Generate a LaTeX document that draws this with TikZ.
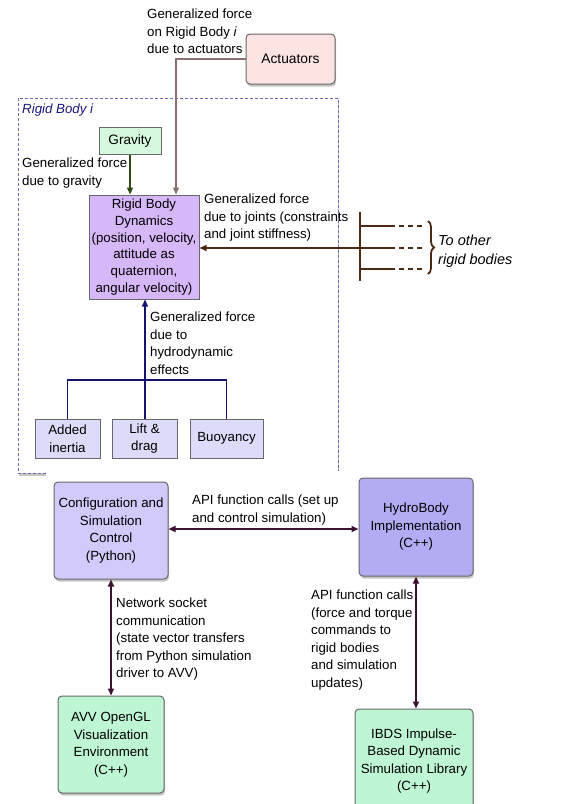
\documentclass[tikz,border=0pt]{standalone}
\usepackage{fontspec}
\setmainfont{Liberation Sans}
\usetikzlibrary{arrows.meta,shadows,decorations.pathreplacing}
\definecolor{actfill}{HTML}{FCE4E2}
\definecolor{gravfill}{HTML}{D6F8DC}
\definecolor{rbdfill}{HTML}{D6B8F8}
\definecolor{smallfill}{HTML}{DCDCFA}
\definecolor{cfgfill}{HTML}{D2CAFA}
\definecolor{hydfill}{HTML}{B2ACF4}
\definecolor{grnfill}{HTML}{BEF5D2}
\definecolor{boxline}{HTML}{686868}
\definecolor{actarrow}{HTML}{8A7070}
\definecolor{gravarrow}{HTML}{2E4A10}
\definecolor{jointarrow}{HTML}{4A2A14}
\definecolor{hydarrow}{HTML}{14146E}
\definecolor{botarrow}{HTML}{3C1232}
\definecolor{dashline}{HTML}{7068B8}
\definecolor{titleblue}{HTML}{1A1A7A}
\begin{document}
\begin{tikzpicture}[x=1pt,y=-1pt,
  font=\fontsize{13.3}{17.5}\selectfont,
  box/.style={draw=boxline, line width=1pt, inner sep=0pt, align=center},
  rbox/.style={box, rounded corners=4pt, drop shadow={shadow xshift=1pt, shadow yshift=-2.5pt, opacity=0.45}},
  lbl/.style={anchor=north west, inner sep=0pt, align=left},
  tip/.tip={Triangle[length=7pt,width=6pt]},
  arr/.style={-tip, line width=1.4pt},
  darr/.style={tip-tip, line width=1.7pt, draw=botarrow}]
\useasboundingbox (0,0) rectangle (574,804);
\fill[white] (0,0) rectangle (574,804);

% dashed container
\draw[dashline, dashed, dash pattern=on 3pt off 2pt, line width=1pt, drop shadow={shadow xshift=1pt, shadow yshift=-2.5pt, opacity=0.45}, fill=white] (18,98) rectangle (338,473);
\node[lbl, font=\fontsize{13.3}{17.5}\selectfont\itshape, text=titleblue] (title) at (22,104) {Rigid Body i};

% upper nodes
\node[rbox, fill=actfill, minimum width=89pt, minimum height=50pt, font=\fontsize{13.8}{17.5}\selectfont] (act) at (290.5,59) {Actuators};
\node[box, fill=gravfill, minimum width=62pt, minimum height=27pt, font=\fontsize{13.6}{17.5}\selectfont] (grav) at (130,140.5) {Gravity};
\node[box, fill=rbdfill, minimum width=110pt, minimum height=104pt, font=\fontsize{13.3}{16.8}\selectfont] (rbd) at (144,247) {Rigid Body\\Dynamics\\(position, velocity,\\attitude as\\quaternion,\\angular velocity)};
\node[box, fill=smallfill, minimum width=65pt, minimum height=39pt] (added) at (67.5,438.5) {Added\\inertia};
\node[box, fill=smallfill, minimum width=65pt, minimum height=39pt] (lift) at (144.5,438.5) {Lift \&\\drag};
\node[box, fill=smallfill, minimum width=73pt, minimum height=39pt] (buoy) at (226.5,438.5) {Buoyancy};

% labels upper
\node[lbl] (lact) at (147,9) {Generalized force\\on Rigid Body \textit{i}\\due to actuators};
\node[lbl] (lgrav) at (22,158) {Generalized force\\due to gravity};
\node[lbl] (ljoint) at (204,194) {Generalized force\\due to joints (constraints\\and joint stiffness)};
\node[lbl] (lhyd) at (150,312) {Generalized force\\due to\\hydrodynamic\\effects};
\node[lbl, font=\fontsize{14.5}{19}\selectfont\itshape] (lother) at (438,234.5) {To other\\rigid bodies};

% upper connectors
\coordinate (actbend) at (176,59);
\draw[arr, actarrow] (act.west |- actbend) -- (actbend) -- (actbend |- rbd.north);
\draw[arr, gravarrow] (grav.south) -- (grav.south |- rbd.north);
\coordinate (hbar) at (145,380);
\draw[hydarrow, line width=1.4pt] (added.north) |- (hbar) -| (buoy.north);
\draw[arr, hydarrow] (lift.north -| hbar) -- (hbar |- rbd.south);

% joints
\coordinate (bartop) at (360,212);
\coordinate (barbot) at (360,281);
\coordinate (j1) at (390,226);
\coordinate (j2) at (390,248);
\coordinate (j3) at (390,269);
\coordinate (e1) at (422,226);
\coordinate (e2) at (422,248);
\coordinate (e3) at (422,269);
\draw[jointarrow, line width=1.4pt] (bartop) -- (barbot);
\draw[jointarrow, line width=1.4pt] (bartop |- j1) -- (j1);
\draw[jointarrow, line width=1.4pt] (bartop |- j3) -- (j3);
\draw[arr, jointarrow] (j2) -- (rbd.east |- j2);
\draw[jointarrow, line width=1.4pt, dashed, dash pattern=on 5pt off 4pt] (j1) -- (e1) (j2) -- (e2) (j3) -- (e3);
\coordinate (bt) at (428,221);
\coordinate (bb) at (428,274);
\draw[jointarrow, line width=1.8pt, decorate, decoration={brace, amplitude=6pt}] (bt) -- (bb);

% white overlay of the lower picture
\fill[white] (46,471) rectangle (574,804);

% lower nodes
\node[rbox, fill=cfgfill, minimum width=114pt, minimum height=97pt] (cfg) at (111,530.5) {Configuration and\\Simulation\\Control\\(Python)};
\node[rbox, fill=hydfill, minimum width=114pt, minimum height=98pt] (hyd) at (416,527) {HydroBody\\Implementation\\(C++)};
\node[rbox, fill=grnfill, minimum width=106pt, minimum height=97pt] (avv) at (111,744.5) {AVV OpenGL\\Visualization\\Environment\\(C++)};
\node[rbox, fill=grnfill, minimum width=118pt, minimum height=104pt] (ibds) at (414,761) {IBDS Impulse-\\Based Dynamic\\Simulation Library\\(C++)};

% lower labels
\node[lbl] (lapi) at (192,495) {API function calls (set up\\and control simulation)};
\node[lbl] (lnet) at (116,598) {Network socket\\communication\\(state vector transfers\\from Python simulation\\driver to AVV)};
\node[lbl] (lapi2) at (311,590) {API function calls\\(force and torque\\commands to\\rigid bodies\\and simulation\\updates)};

% lower connectors
\coordinate (hy) at (0,529);
\draw[darr] (cfg.east |- hy) -- (hyd.west |- hy);
\draw[darr] (cfg.south) -- (avv.north);
\coordinate (vx) at (416,0);
\draw[darr] (hyd.south -| vx) -- (ibds.north -| vx);
\end{tikzpicture}
\end{document}
